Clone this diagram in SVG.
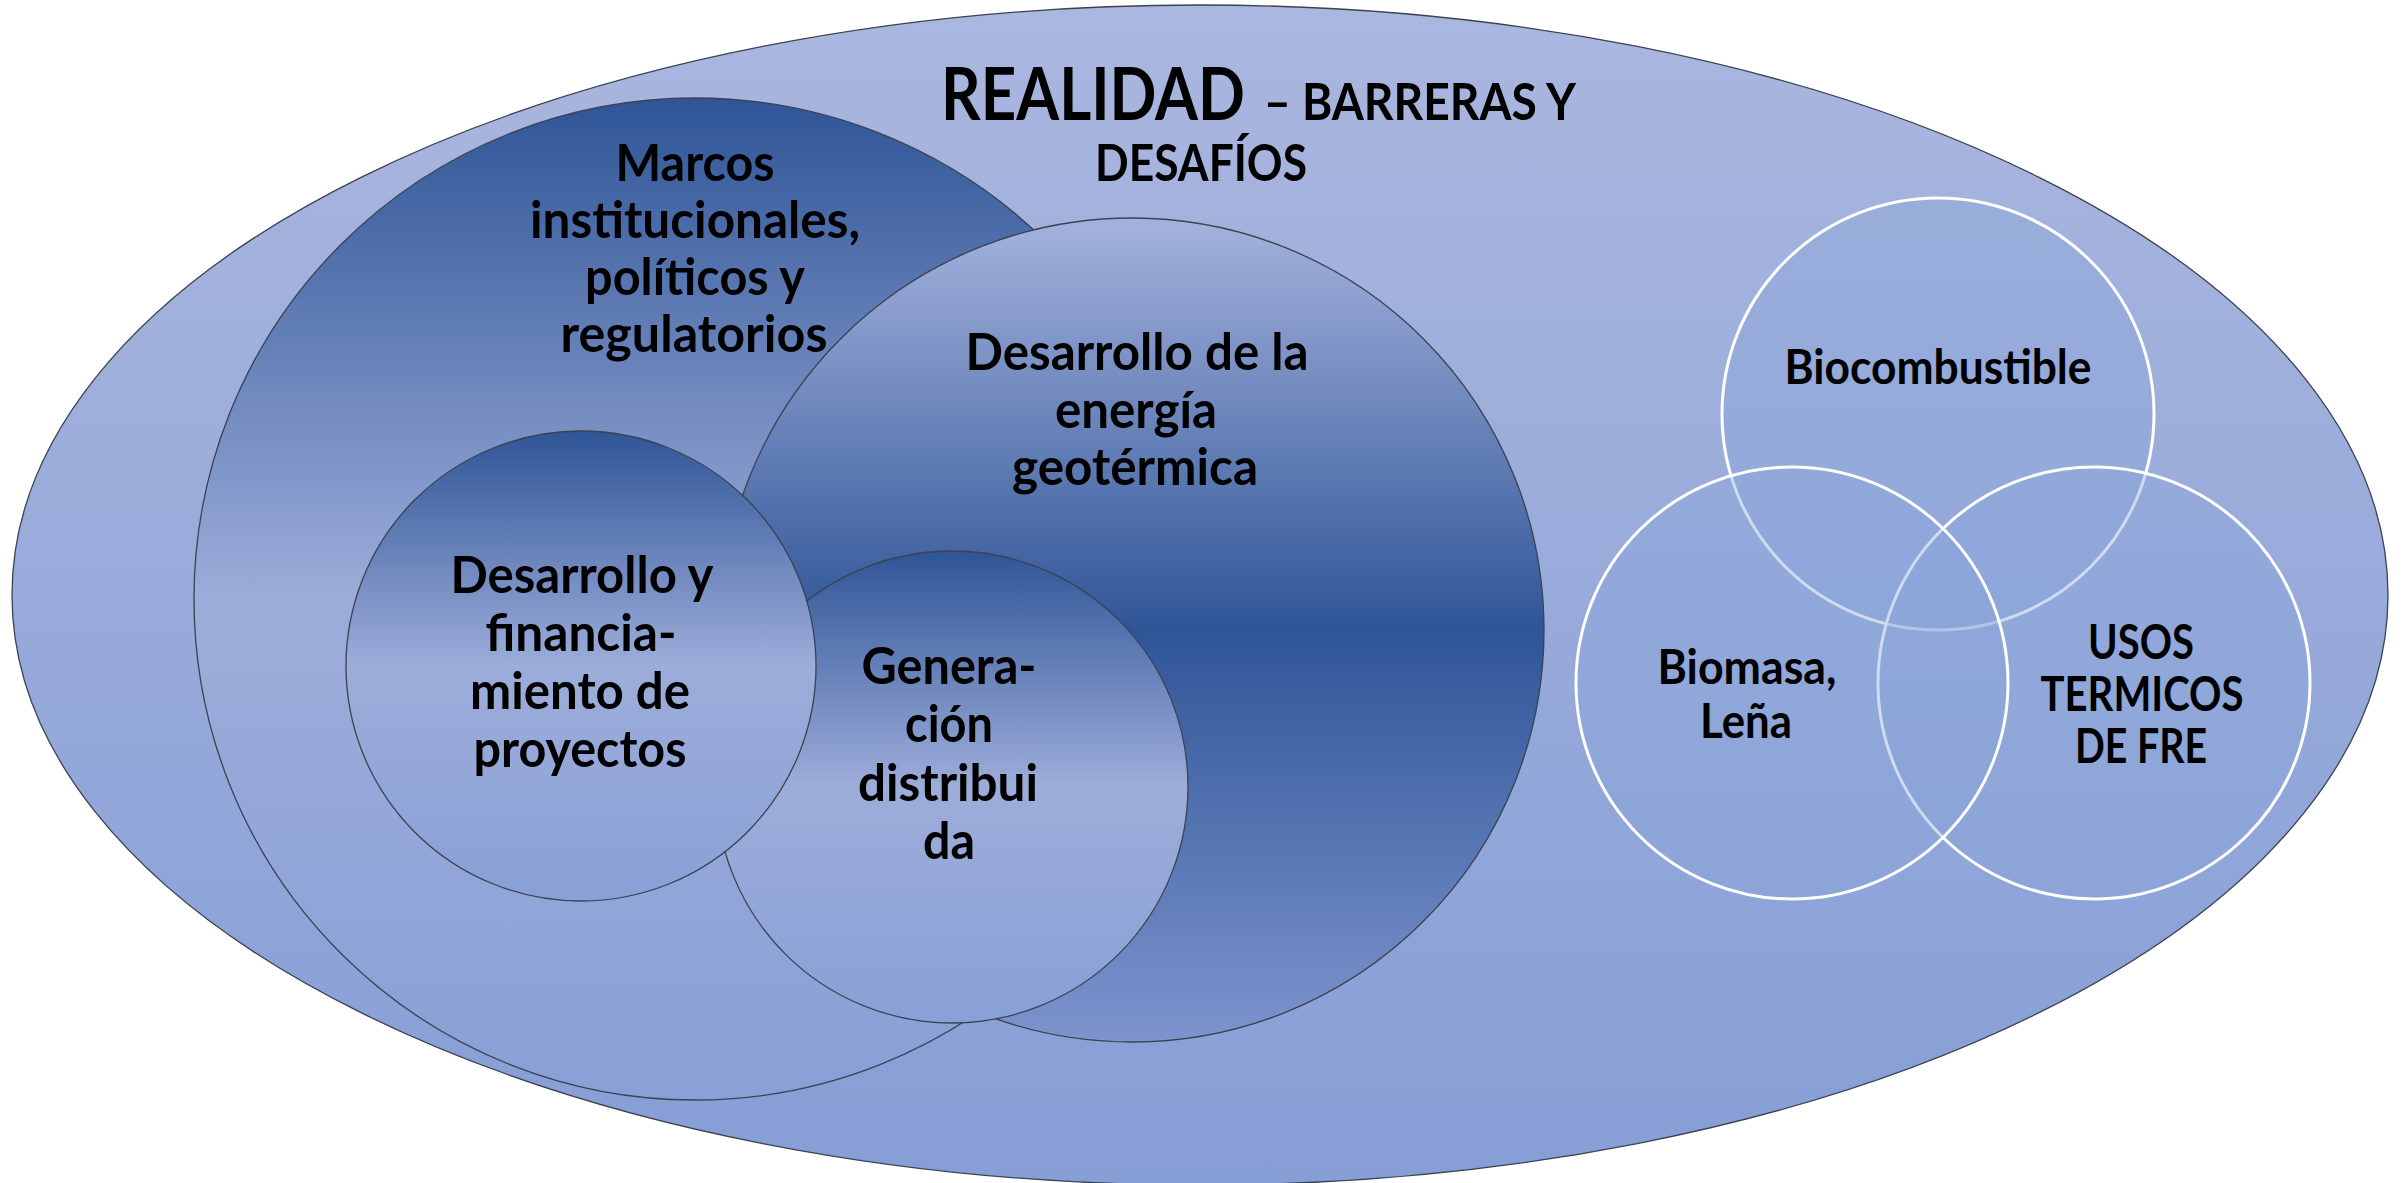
<svg xmlns="http://www.w3.org/2000/svg" width="2408" height="1183" viewBox="0 0 2408 1183">
  <defs>
    <linearGradient id="gOuter" x1="0" y1="0" x2="0" y2="1">
      <stop offset="0" stop-color="#AAB7DF"/>
      <stop offset="1" stop-color="#869ED6"/>
    </linearGradient>
    <linearGradient id="gDarkTop" x1="0" y1="0" x2="0" y2="1">
      <stop offset="0" stop-color="#2F5597"/>
      <stop offset="0.5" stop-color="#9DADDA"/>
      <stop offset="1" stop-color="#88A0D6"/>
    </linearGradient>
    <linearGradient id="gDarkMid" x1="0" y1="0" x2="0" y2="1">
      <stop offset="0" stop-color="#A4B2DD"/>
      <stop offset="0.5" stop-color="#2F5597"/>
      <stop offset="1" stop-color="#7D94CE"/>
    </linearGradient>
    <style>
      .ring { stroke: #3B4250; stroke-width: 1.3; }
      .venn { fill: #8AA6DA; fill-opacity: 0.4; stroke: #FFFFFF; stroke-width: 3; }
      .t { font-family: Lato, "Open Sans", "Liberation Sans", sans-serif; font-weight: 700; fill: #000000; text-anchor: middle; }
      .big { font-size: 52px; }
      .mid { font-size: 47px; }
    </style>
  </defs>

  <g id="realidad">
    <ellipse cx="1200" cy="595" rx="1188" ry="590" fill="url(#gOuter)" class="ring"/>
    <text class="t" style="text-anchor:start" y="120">
      <tspan x="941" font-size="72" textLength="304" lengthAdjust="spacingAndGlyphs">REALIDAD</tspan>
    </text>
    <text class="t" style="text-anchor:start" y="120" font-size="52">
      <tspan x="1264" textLength="312" lengthAdjust="spacingAndGlyphs">– BARRERAS Y</tspan>
    </text>
    <text class="t" style="text-anchor:start" y="181" font-size="52">
      <tspan x="1095" textLength="212" lengthAdjust="spacingAndGlyphs">DESAFÍOS</tspan>
    </text>
  </g>

  <g id="marcos">
    <circle cx="695" cy="599" r="501" fill="url(#gDarkTop)" class="ring"/>
    <text class="t big" x="695" y="181" textLength="159" lengthAdjust="spacingAndGlyphs">Marcos</text>
    <text class="t big" x="695" y="238" textLength="330" lengthAdjust="spacingAndGlyphs">institucionales,</text>
    <text class="t big" x="695" y="295" textLength="220" lengthAdjust="spacingAndGlyphs">políticos y</text>
    <text class="t big" x="694" y="352" textLength="267" lengthAdjust="spacingAndGlyphs">regulatorios</text>
  </g>

  <g id="geotermica">
    <circle cx="1132" cy="630" r="412" fill="url(#gDarkMid)" class="ring"/>
    <text class="t big" x="1137" y="370" textLength="343" lengthAdjust="spacingAndGlyphs">Desarrollo de la</text>
    <text class="t big" x="1136" y="428" textLength="162" lengthAdjust="spacingAndGlyphs">energía</text>
    <text class="t big" x="1135" y="485" textLength="246" lengthAdjust="spacingAndGlyphs">geotérmica</text>
  </g>

  <g id="generacion">
    <circle cx="952" cy="787" r="236" fill="url(#gDarkTop)" class="ring"/>
    <text class="t big" x="949" y="684" textLength="175" lengthAdjust="spacingAndGlyphs">Genera-</text>
    <text class="t big" x="949" y="742" textLength="88" lengthAdjust="spacingAndGlyphs">ción</text>
    <text class="t big" x="948" y="801" textLength="180" lengthAdjust="spacingAndGlyphs">distribui</text>
    <text class="t big" x="949" y="859" textLength="52" lengthAdjust="spacingAndGlyphs">da</text>
  </g>

  <g id="desarrollo-financiamiento">
    <circle cx="581" cy="666" r="235" fill="url(#gDarkTop)" class="ring"/>
    <text class="t big" x="582" y="593" textLength="263" lengthAdjust="spacingAndGlyphs">Desarrollo y</text>
    <text class="t big" x="581" y="651" textLength="191" lengthAdjust="spacingAndGlyphs">financia-</text>
    <text class="t big" x="580" y="709" textLength="220" lengthAdjust="spacingAndGlyphs">miento de</text>
    <text class="t big" x="580" y="767" textLength="213" lengthAdjust="spacingAndGlyphs">proyectos</text>
  </g>

  <g id="biocombustible">
    <circle cx="1938" cy="414" r="216" class="venn"/>
  </g>
  <g id="usos-termicos">
    <circle cx="2094" cy="683" r="216" class="venn"/>
  </g>
  <g id="biomasa">
    <circle cx="1792" cy="683" r="216" class="venn"/>
  </g>

  <g id="venn-labels">
    <text class="t mid" x="1938" y="384" textLength="307" lengthAdjust="spacingAndGlyphs">Biocombustible</text>
    <text class="t mid" x="1747" y="684" textLength="179" lengthAdjust="spacingAndGlyphs">Biomasa,</text>
    <text class="t mid" x="1746" y="738" textLength="92" lengthAdjust="spacingAndGlyphs">Leña</text>
    <text class="t mid" x="2141" y="659" textLength="106" lengthAdjust="spacingAndGlyphs">USOS</text>
    <text class="t mid" x="2142" y="711" textLength="203" lengthAdjust="spacingAndGlyphs">TERMICOS</text>
    <text class="t mid" x="2141" y="763" textLength="132" lengthAdjust="spacingAndGlyphs">DE FRE</text>
  </g>

  <g id="connectors"/>
</svg>
